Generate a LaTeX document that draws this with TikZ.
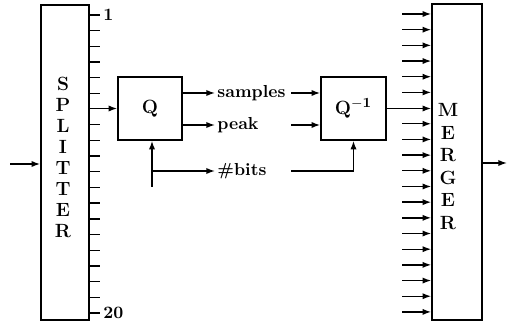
\documentclass[tikz,border=0pt]{standalone}
\usetikzlibrary{arrows.meta,fit,calc}
\begin{document}
\begin{tikzpicture}[x=0.575pt,y=-0.575pt,
  line width=0.8pt,
  arr/.style={-{Latex[length=5pt,width=3.6pt]}},
  box/.style={draw,line width=0.9pt,inner sep=0pt},
  lbl/.style={font=\bfseries,inner sep=1pt},
  big/.style={font=\fontsize{11}{13}\selectfont\bfseries,inner sep=1pt}]
\useasboundingbox (0,0) rectangle (509,324);
% boxes
\node[box,fit={(41,5) (89,320)}] (split) {};
\node[box,fit={(118,77) (182,140)}] (Q) {};
\node[box,fit={(321,77) (386,140)}] (Qi) {};
\node[box,fit={(432,4) (482,320)}] (merge) {};
% box texts
\node[big] (qt) at (Q.center) {Q};
\node[big] (qit) at (Qi.center) {Q$^{\mathbf{-1}}$};
\foreach \ch [count=\k from 0] in {S,P,L,I,T,T,E,R}
  \node[big] at (63,84+\k*21) {\ch};
\foreach \ch [count=\k from 0] in {M,E,R,G,E,R}
  \node[big] at (448,110+\k*22.6) {\ch};
% splitter ticks
\foreach \i in {0,...,19}{
  \ifnum\i=6\else
    \draw (89,15+\i*15.68) -- (100,15+\i*15.68);
  \fi}
\node[lbl,anchor=west] (one) at (101,15) {1};
\node[lbl,anchor=west] (twenty) at (101,313) {20};
% merger inputs
\foreach \i in {0,...,19}{
  \ifnum\i=6\else
    \coordinate (m\i) at (402,14+\i*15.68);
    \draw[arr] (m\i) -- (m\i-|merge.west);
  \fi}
% input / output
\coordinate (in) at (10,164);
\draw[arr] (in) -- (in-|split.west);
\coordinate (out) at (507,163);
\draw[arr] (out-|merge.east) -- (out);
% splitter -> Q
\draw[arr] (split.east|-Q.center) -- (Q.west);
% labels
\node[lbl,anchor=west] (samp) at (215,93) {samples};
\node[lbl,anchor=west] (peak) at (215,125) {peak};
\node[lbl,anchor=west] (bits) at (215,171) {\#bits};
\coordinate (rs) at (291,93);
\coordinate (rp) at (291,125);
\coordinate (rb) at (291,171);
\draw[arr] (Q.east|-samp) -- (samp.west);
\draw[arr] (Q.east|-peak) -- (peak.west);
\draw[arr] (rs) -- (rs-|Qi.west);
\draw[arr] (rp) -- (rp-|Qi.west);
% bits
\coordinate (b0) at (152,187);
\draw[arr] (b0) -- (b0|-Q.south);
\draw[arr] (b0|-bits) -- (bits.west);
\draw[arr] (rb) -| (Qi.south);
% Q^-1 -> merger
\draw[arr] (Qi.east) -- (Qi.east-|merge.west);
\end{tikzpicture}
\end{document}
